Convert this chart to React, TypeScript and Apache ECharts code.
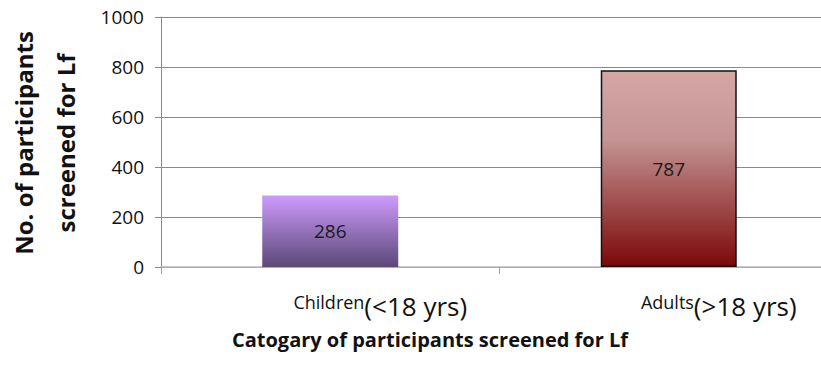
import React, { useEffect, useRef } from "react";
import * as echarts from "echarts";

// Participants screened for Lf, by age group
const categories = ["Children", "Adults"];
const ageRanges = ["(<18 yrs)", "(>18 yrs)"];
const screened = [286, 787];
const yTicks = { min: 0, max: 1000, interval: 200 };

const yTitle = "No. of participants\nscreened for Lf";
const xTitle = "Catogary of participants screened for Lf";

const FONT = "'Open Sans', 'DejaVu Sans', sans-serif";

const barStyles = [
  {
    color: new echarts.graphic.LinearGradient(0, 0, 0, 1, [
      { offset: 0, color: "#cd9bfd" },
      { offset: 1, color: "#5c4877" },
    ]),
    borderWidth: 0,
  },
  {
    color: new echarts.graphic.LinearGradient(0, 0, 0, 1, [
      { offset: 0, color: "#d6a6a6" },
      { offset: 0.35, color: "#c49494" },
      { offset: 1, color: "#7c0808" },
    ]),
    borderColor: "#111111",
    borderWidth: 1.5,
  },
];

export default function App() {
  const ref = useRef<HTMLDivElement>(null);

  useEffect(() => {
    if (!ref.current) return;
    const chart = echarts.init(ref.current, null, { renderer: "svg" });
    chart.setOption({
      animation: false,
      backgroundColor: "#ffffff",
      // plot area runs past the right edge of the visible frame
      grid: { left: 161, top: 17, width: 677, height: 250, containLabel: false },
      xAxis: {
        type: "category",
        data: categories,
        axisLine: { lineStyle: { color: "#b8b8b8", width: 1.5 } },
        axisTick: { show: true, length: 7, lineStyle: { color: "#a0a0a0" } },
        axisLabel: {
          margin: 20,
          padding: [0, 0, 0, 100],
          formatter: (value: string, idx: number) =>
            `{a|${value}}{b|${ageRanges[idx]}}`,
          rich: {
            a: {
              fontFamily: FONT,
              fontSize: 18,
              color: "#111",
              verticalAlign: "bottom",
              padding: [0, 0, 8, 0],
            },
            b: {
              fontFamily: FONT,
              fontSize: 26,
              lineHeight: 32,
              color: "#111",
              verticalAlign: "bottom",
            },
          },
        },
      },
      yAxis: {
        type: "value",
        min: yTicks.min,
        max: yTicks.max,
        interval: yTicks.interval,
        axisLine: { show: true, lineStyle: { color: "#8a8a8a" } },
        axisTick: { show: true, length: 6, lineStyle: { color: "#8a8a8a" } },
        splitLine: { lineStyle: { color: "#8a8a8a", width: 1 } },
        axisLabel: {
          fontFamily: FONT,
          fontSize: 19,
          color: "#111",
          margin: 17,
          formatter: (v: number) => String(v),
        },
      },
      graphic: [
        {
          type: "text",
          x: 44,
          y: 143,
          rotation: Math.PI / 2,
          style: {
            text: yTitle,
            fontFamily: FONT,
            fontWeight: "bold",
            fontSize: 24,
            lineHeight: 42,
            fill: "#111",
            textAlign: "center",
            textVerticalAlign: "middle",
          },
        },
        {
          type: "text",
          x: 430,
          y: 339,
          style: {
            text: xTitle,
            fontFamily: FONT,
            fontWeight: "bold",
            fontSize: 20,
            fill: "#111",
            textAlign: "center",
            textVerticalAlign: "middle",
          },
        },
      ],
      series: [
        {
          type: "bar",
          barWidth: 136,
          data: screened.map((v, i) => ({ value: v, itemStyle: barStyles[i] })),
          label: {
            show: true,
            position: "inside",
            fontFamily: FONT,
            fontSize: 19,
            color: "#1a1a1a",
          },
        },
      ],
    });
    return () => chart.dispose();
  }, []);

  return (
    <div
      style={{
        position: "fixed",
        left: 0,
        top: 0,
        width: 821,
        height: 366,
        overflow: "hidden",
        background: "#fff",
      }}
    >
      <div ref={ref} style={{ width: 860, height: 366 }} />
    </div>
  );
}
